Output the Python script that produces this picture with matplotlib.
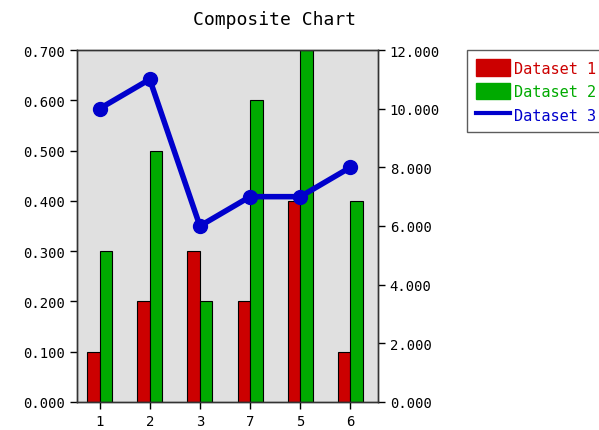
import matplotlib
matplotlib.use("Agg")
import matplotlib.pyplot as plt
import numpy as np
from matplotlib.patches import Patch
from matplotlib.lines import Line2D
from matplotlib.ticker import FormatStrFormatter

categories = ["1", "2", "3", "7", "5", "6"]
dataset1 = [0.1, 0.2, 0.3, 0.2, 0.4, 0.1]
dataset2 = [0.3, 0.5, 0.2, 0.6, 0.7, 0.4]
dataset3 = [10, 11, 6, 7, 7, 8]
left_ticks = [0.0, 0.1, 0.2, 0.3, 0.4, 0.5, 0.6, 0.7]
right_ticks = [0, 2, 4, 6, 8, 10, 12]

plt.rcParams['font.family'] = ['DejaVu Sans Mono']

red = "#CC0000"
green = "#00AA00"
blue = "#0000CC"

fig = plt.figure(figsize=(5.99, 4.31), dpi=100)
W, H = 599, 431
ax = fig.add_axes([77 / W, (H - 403) / H, (378 - 77) / W, (403 - 51) / H])
ax.set_facecolor("#E0E0E0")

x = np.arange(len(categories))
bw = 0.25
ax.bar(x - bw / 2, dataset1, width=bw, color=red, edgecolor="black", linewidth=0.8, zorder=2)
ax.bar(x + bw / 2, dataset2, width=bw, color=green, edgecolor="black", linewidth=0.8, zorder=2)
ax.set_xlim(-0.45, 5.55)
ax.set_ylim(0, 0.7)
ax.set_yticks(left_ticks)
ax.yaxis.set_major_formatter(FormatStrFormatter("%.3f"))
ax.set_xticks(x)
ax.set_xticklabels(categories)

ax2 = ax.twinx()
ax2.plot(x, dataset3, color=blue, linewidth=4, marker="o", markersize=10, zorder=3)
ax2.set_ylim(0, 12)
ax2.set_yticks(right_ticks)
ax2.yaxis.set_major_formatter(FormatStrFormatter("%.3f"))

for a in (ax, ax2):
    a.tick_params(labelsize=10, length=5, width=1, colors="black", direction="out")
    for s in a.spines.values():
        s.set_color("#333333")
        s.set_linewidth(1)

fig.text(275 / W, 1 - 20 / H, "Composite Chart", ha="center", va="center", fontsize=13)

handles = [Patch(facecolor=red, edgecolor=red),
           Patch(facecolor=green, edgecolor=green),
           Line2D([0], [0], color=blue, linewidth=3)]
leg = fig.legend(handles, ["Dataset 1", "Dataset 2", "Dataset 3"],
                 loc="upper left", bbox_to_anchor=(467 / W, 1 - 51 / H),
                 fontsize=11, frameon=True, fancybox=False, borderpad=0.6,
                 handlelength=2.2, handleheight=1.3, handletextpad=0.3,
                 labelspacing=0.45, borderaxespad=0)
leg.get_frame().set_edgecolor("#333333")
leg.get_frame().set_linewidth(1)
for t, c in zip(leg.get_texts(), [red, green, blue]):
    t.set_color(c)

fig.savefig("out.png", dpi=100)
